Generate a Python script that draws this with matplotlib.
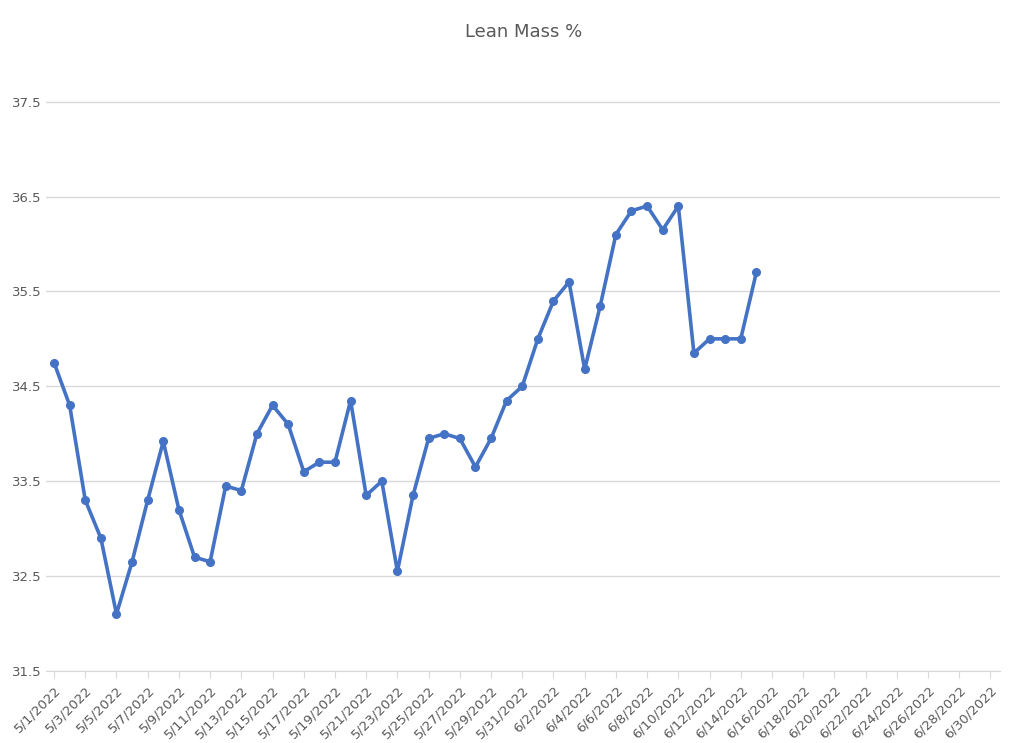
import datetime as dt
import matplotlib
matplotlib.use("Agg")
import matplotlib.pyplot as plt

start_date = dt.datetime(2022, 5, 1)
lean_mass = [34.75, 34.3, 33.3, 32.9, 32.1, 32.65, 33.3, 33.92, 33.2, 32.7,
             32.65, 33.45, 33.4, 34.0, 34.3, 34.1, 33.6, 33.7, 33.7, 34.35,
             33.35, 33.5, 32.55, 33.35, 33.95, 34.0, 33.95, 33.65, 33.95, 34.35,
             34.5, 35.0, 35.4, 35.6, 34.68, 35.35, 36.1, 36.35, 36.4, 36.15,
             36.4, 34.85, 35.0, 35.0, 35.0, 35.7]
dates = [start_date + dt.timedelta(days=i) for i in range(len(lean_mass))]
y_ticks = [31.5, 32.5, 33.5, 34.5, 35.5, 36.5, 37.5]

fig = plt.figure(figsize=(10.24, 7.43), dpi=100)
ax = fig.add_axes([0.045, 0.097, 0.932, 0.83])
ax.plot(dates, lean_mass, color="#4472C4", lw=2.6, marker="o", ms=5.5)

ax.set_xlim(start_date - dt.timedelta(days=0.51), start_date + dt.timedelta(days=60.64))
ax.set_ylim(31.5, 38.0)
ax.set_yticks(y_ticks)
ax.set_yticklabels([f"{v:.1f}" for v in y_ticks], color="#595959", fontsize=9.5)
ax.grid(axis="y", color="#D9D9D9", lw=1)
ax.set_axisbelow(True)

ticks = [start_date + dt.timedelta(days=2 * i) for i in range(31)]
ax.set_xticks(ticks)
ax.set_xticklabels([f"{d.month}/{d.day}/{d.year}" for d in ticks],
                   rotation=45, ha="right", rotation_mode="anchor",
                   color="#595959", fontsize=9.5)
ax.tick_params(axis="x", length=5, color="#D9D9D9", pad=4)
ax.tick_params(axis="y", length=0)
for s in ["top", "right", "left"]:
    ax.spines[s].set_visible(False)
ax.spines["bottom"].set_color("#D9D9D9")
fig.text(0.5115, 0.957, "Lean Mass %", color="#595959", fontsize=13,
         ha="center", va="center")

fig.savefig("out.png", dpi=100)
